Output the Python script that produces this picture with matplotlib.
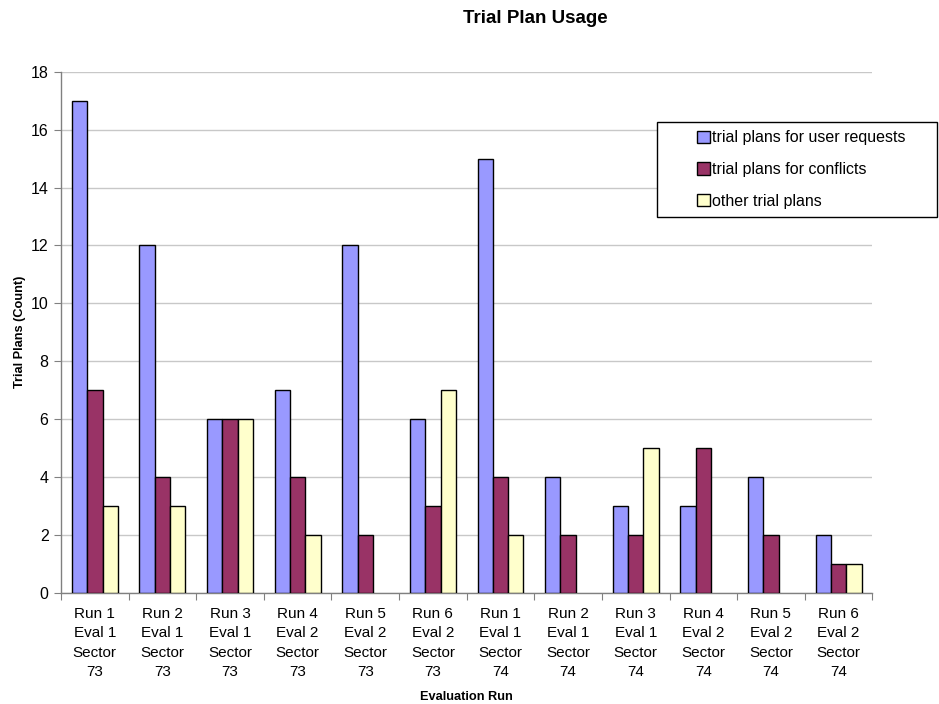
import matplotlib
matplotlib.use("Agg")
import matplotlib.pyplot as plt
import numpy as np
from matplotlib.patches import Patch, Rectangle

plt.rcParams['font.family'] = ['Liberation Sans', 'DejaVu Sans']

categories = [
    "Run 1\nEval 1\nSector\n73", "Run 2\nEval 1\nSector\n73", "Run 3\nEval 1\nSector\n73",
    "Run 4\nEval 2\nSector\n73", "Run 5\nEval 2\nSector\n73", "Run 6\nEval 2\nSector\n73",
    "Run 1\nEval 1\nSector\n74", "Run 2\nEval 1\nSector\n74", "Run 3\nEval 1\nSector\n74",
    "Run 4\nEval 2\nSector\n74", "Run 5\nEval 2\nSector\n74", "Run 6\nEval 2\nSector\n74",
]
user_requests = [17, 12, 6, 7, 12, 6, 15, 4, 3, 3, 4, 2]
conflicts = [7, 4, 6, 4, 2, 3, 4, 2, 2, 5, 2, 1]
other_plans = [3, 3, 6, 2, 0, 7, 2, 0, 5, 0, 0, 1]

series_names = ["trial plans for user requests", "trial plans for conflicts", "other trial plans"]
colors = ["#9999FF", "#993366", "#FFFFCC"]

fig = plt.figure(figsize=(9.39, 7.04), dpi=100)
ax = fig.add_axes([0.065, 0.158, 0.864, 0.74])

x = np.arange(len(categories))
w = 0.68 / 3
for i, (vals, c) in enumerate(zip([user_requests, conflicts, other_plans], colors)):
    bars = ax.bar(x + (i - 1) * w, vals, width=w, color=c, edgecolor="black",
                  linewidth=1.0, zorder=3)
    # empty bars leave no outline on the axis
    for b, v in zip(bars, vals):
        if v == 0:
            b.set_linewidth(0)

ax.set_xlim(-0.5, len(categories) - 0.5)
ax.set_ylim(0, 18)
ax.set_yticks(range(0, 19, 2))
ax.set_xticks(np.arange(-0.5, len(categories), 1))
ax.set_xticklabels([])
ax.set_xticks(x, minor=True)
ax.set_xticklabels(categories, minor=True, fontsize=11, linespacing=1.5)
ax.tick_params(axis='x', which='minor', length=0, pad=10)
ax.tick_params(axis='x', which='major', length=5, direction='out', color='#808080')
ax.tick_params(axis='y', length=5, direction='out', labelsize=11.5, color='#808080', pad=4)

ax.grid(axis='y', color='#C8C8C8', linewidth=1.0, zorder=0)
for s in ['top', 'right']:
    ax.spines[s].set_visible(False)
for s in ['left', 'bottom']:
    ax.spines[s].set_color('#808080')
    ax.spines[s].set_linewidth(1.0)

ax.set_ylabel("Trial Plans (Count)", fontsize=9.2, fontweight='bold', labelpad=3)
fig.text(0.497, 0.01, "Evaluation Run", ha='center', va='center', fontsize=9.2, fontweight='bold')
fig.text(0.570, 0.974, "Trial Plan Usage", ha='center', va='center', fontsize=13.5, fontweight='bold')

# legend box
fig.patches.append(Rectangle((657 / 939, 1 - 217 / 704), 280 / 939, 95 / 704,
                             transform=fig.transFigure, facecolor='white',
                             edgecolor='black', linewidth=1.0, zorder=5))
handles = [Patch(facecolor=c, edgecolor='black', linewidth=1.0) for c in colors]
leg = fig.legend(handles, series_names, loc='center left', bbox_to_anchor=(697 / 939, 1 - 169.5 / 704),
                 fontsize=11.5, frameon=False,
                 handlelength=0.8, handleheight=0.8, handletextpad=0.15,
                 borderpad=0, labelspacing=1.05, borderaxespad=0)
leg.set_zorder(6)

fig.savefig("out.png", dpi=100)
